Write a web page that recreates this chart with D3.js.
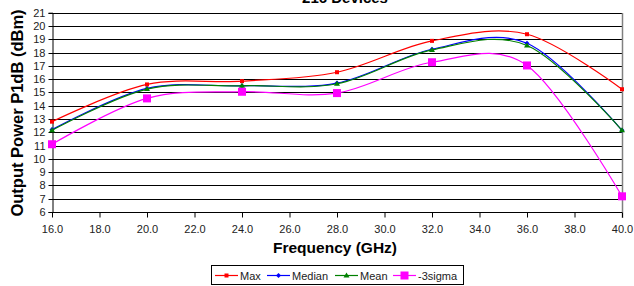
<!DOCTYPE html>
<html><head><meta charset="utf-8">
<script src="https://cdn.jsdelivr.net/npm/d3@7"></script>
<style>body{margin:0;background:#fff}svg{display:block}text{font-family:Arial,"Liberation Sans",sans-serif}</style>
</head><body><svg id="c" width="634" height="286"></svg>
<script>
const freqs = [16, 20, 24, 28, 32, 36, 40];
const maxVals = [12.8, 15.6, 15.85, 16.52, 18.88, 19.38, 15.24];
const medianVals = [12.2, 15.3, 15.5, 15.7, 18.25, 18.7, 12.15];
const meanVals = [12.15, 15.25, 15.5, 15.65, 18.2, 18.53, 12.15];
const sigmaVals = [11.1, 14.55, 15.05, 14.95, 17.27, 17.03, 7.18];
const xTicks = [16, 18, 20, 22, 24, 26, 28, 30, 32, 34, 36, 38, 40];
const yTicks = [6,7,8,9,10,11,12,13,14,15,16,17,18,19,20,21];
const seriesNames = ["Max", "Median", "Mean", "-3sigma"];
const seriesColors = ["#FF0000", "#0000FF", "#008000", "#FF00FF"];
const seriesMarkers = ["square", "diamond", "triangle", "bigsquare"];
const titleText = "216 Devices";

const svg = d3.select("#c");
const L = 52, R = 622, T = 12.7, B = 212;
const x = d3.scaleLinear().domain([16, 40]).range([L, R]);
const y = d3.scaleLinear().domain([6, 21]).range([B, T]);

svg.append("g").selectAll("line").data(yTicks.filter(v => v > 6)).join("line")
  .attr("x1", L).attr("x2", R).attr("y1", d => Math.round(y(d)) + 0.5).attr("y2", d => Math.round(y(d)) + 0.5)
  .attr("stroke", "#000").attr("stroke-width", 1);
svg.append("line").attr("x1", R + 0.5).attr("x2", R + 0.5).attr("y1", Math.round(T)).attr("y2", B + 6)
  .attr("stroke", "#808080").attr("stroke-width", 1.5);

const yAxis = d3.axisLeft(y).tickValues(yTicks).tickSize(4).tickPadding(3).tickFormat(d3.format("d"));
const gy = svg.append("g").attr("transform", `translate(${L + 0.5},0)`).call(yAxis);
gy.select(".domain").attr("stroke", "#000");
gy.selectAll("text").attr("font-size", 11).attr("fill", "#222");
gy.selectAll(".tick").attr("transform", d => `translate(0,${Math.round(y(d)) + 0.5})`);

const xAxis = d3.axisBottom(x).tickValues(xTicks).tickSize(5).tickPadding(8).tickFormat(d3.format(".1f"));
const gx = svg.append("g").attr("transform", `translate(0,${B + 0.5})`).call(xAxis);
gx.select(".domain").attr("stroke", "#000").attr("d", `M${L},0H${R}`);
gx.selectAll("text").attr("font-size", 11).attr("fill", "#222");

svg.append("text").attr("x", 345).attr("y", 3).attr("text-anchor", "middle")
  .attr("font-size", 15).attr("font-weight", "bold").text(titleText);
svg.append("text").attr("x", 335).attr("y", 253).attr("text-anchor", "middle")
  .attr("font-size", 15.5).attr("font-weight", "bold").text("Frequency (GHz)");
svg.append("text").attr("transform", "translate(23,113) rotate(-90)").attr("text-anchor", "middle")
  .attr("font-size", 16.5).attr("font-weight", "bold").text("Output Power P1dB (dBm)");

const allVals = [maxVals, medianVals, meanVals, sigmaVals];
const line = d3.line().x((d, i) => x(freqs[i])).y(d => y(d)).curve(d3.curveCardinal.tension(0));

function marker(g, type, color, cx, cy) {
  if (type === "square") g.append("rect").attr("x", cx - 2).attr("y", cy - 2).attr("width", 4).attr("height", 4).attr("fill", color);
  else if (type === "bigsquare") g.append("rect").attr("x", cx - 4).attr("y", cy - 4).attr("width", 8).attr("height", 8).attr("fill", color);
  else if (type === "diamond") g.append("path").attr("d", `M${cx},${cy-2.5}L${cx+2.5},${cy}L${cx},${cy+2.5}L${cx-2.5},${cy}Z`).attr("fill", color);
  else if (type === "triangle") g.append("path").attr("d", `M${cx},${cy-3}L${cx+3},${cy+2}L${cx-3},${cy+2}Z`).attr("fill", color);
}

allVals.forEach((vals, k) => {
  const g = svg.append("g");
  g.append("path").datum(vals).attr("d", line).attr("fill", "none")
    .attr("stroke", seriesColors[k]).attr("stroke-width", 1.2);
  vals.forEach((v, i) => marker(g, seriesMarkers[k], seriesColors[k], x(freqs[i]), y(v)));
});

const lg = svg.append("g");
lg.append("rect").attr("x", 211.5).attr("y", 265.5).attr("width", 252).attr("height", 19)
  .attr("fill", "#fff").attr("stroke", "#000").attr("stroke-width", 1);
const legX = [215, 267, 335, 393];
seriesNames.forEach((n, k) => {
  const lx = legX[k], ly = 275.5;
  lg.append("line").attr("x1", lx).attr("x2", lx + 23).attr("y1", ly).attr("y2", ly)
    .attr("stroke", seriesColors[k]).attr("stroke-width", 1.2);
  marker(lg, seriesMarkers[k], seriesColors[k], lx + 11.5, ly);
  lg.append("text").attr("x", lx + 25).attr("y", ly + 4).attr("font-size", 11).attr("fill", "#222").text(n);
});
</script></body></html>
